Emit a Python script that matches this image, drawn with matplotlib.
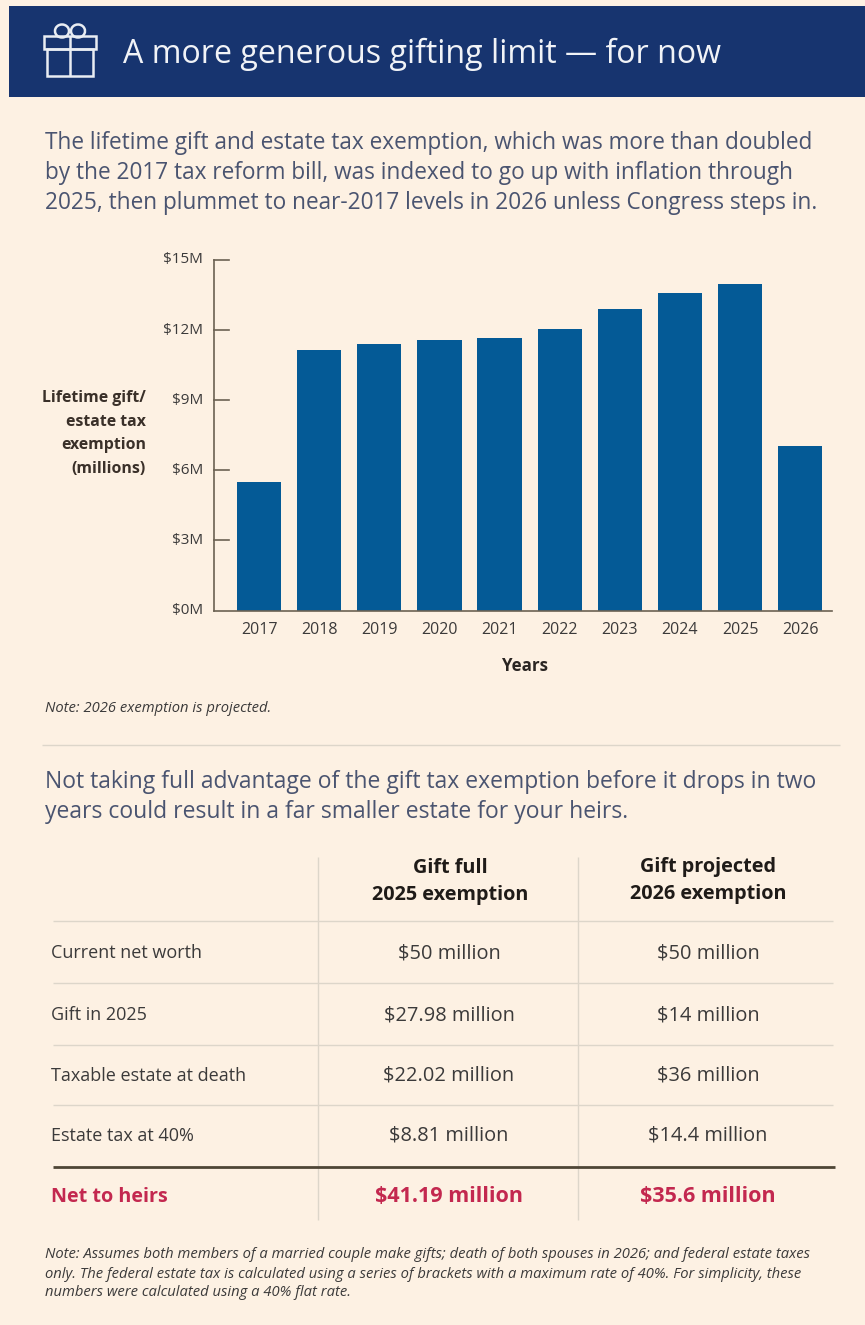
import matplotlib
matplotlib.use("Agg")
import matplotlib.pyplot as plt
from matplotlib.patches import Rectangle, Arc

W, H = 865, 1325
BG = "#FDF1E3"
NAVY = "#17346F"
BAR = "#045A96"
INK = "#3B3A3A"
SLATE = "#4A5470"
RED = "#C3284F"
RULE = "#DDD6CA"
AXIS = "#6B6152"

years = [2017, 2018, 2019, 2020, 2021, 2022, 2023, 2024, 2025, 2026]
exemption = [5.49, 11.15, 11.40, 11.58, 11.68, 12.06, 12.92, 13.58, 13.99, 7.03]
y_ticks = [0, 3, 6, 9, 12, 15]

title = "A more generous gifting limit \u2014 for now"
intro = [
    "The lifetime gift and estate tax exemption, which was more than doubled",
    "by the 2017 tax reform bill, was indexed to go up with inflation through",
    "2025, then plummet to near-2017 levels in 2026 unless Congress steps in.",
]
y_title = ["Lifetime gift/", "estate tax", "exemption", "(millions)"]
chart_note = "Note: 2026 exemption is projected."
lead = [
    "Not taking full advantage of the gift tax exemption before it drops in two",
    "years could result in a far smaller estate for your heirs.",
]
col_heads = [["Gift full", "2025 exemption"], ["Gift projected", "2026 exemption"]]
row_labels = ["Current net worth", "Gift in 2025", "Taxable estate at death", "Estate tax at 40%"]
col_full = ["$50 million", "$27.98 million", "$22.02 million", "$8.81 million"]
col_projected = ["$50 million", "$14 million", "$36 million", "$14.4 million"]
net_label = "Net to heirs"
net_values = ["$41.19 million", "$35.6 million"]
foot = [
    "Note: Assumes both members of a married couple make gifts; death of both spouses in 2026; and federal estate taxes",
    "only. The federal estate tax is calculated using a series of brackets with a maximum rate of 40%. For simplicity, these",
    "numbers were calculated using a 40% flat rate.",
]

plt.rcParams["font.family"] = ["Open Sans", "Noto Sans", "DejaVu Sans"]

fig = plt.figure(figsize=(W / 100, H / 100), dpi=100, facecolor=BG)

# Page layer addressed in pixels from the top-left corner.
page = fig.add_axes([0, 0, 1, 1])
page.set_xlim(0, W)
page.set_ylim(H, 0)
page.axis("off")


def put(x, y, s, size, color=INK, weight="normal", ha="left", style="normal"):
    page.text(x, y, s, fontsize=size, color=color, fontweight=weight,
              ha=ha, va="center", fontstyle=style)


def seg(x0, y0, x1, y1, color, lw):
    page.plot([x0, x1], [y0, y1], color=color, lw=lw, solid_capstyle="butt")


# Header band and gift icon
page.add_patch(Rectangle((9, 6), W - 9, 91, fc=NAVY, ec="none"))
ICON = "#E9EDF3"
page.add_patch(Rectangle((44, 36), 52, 13, fc="none", ec=ICON, lw=1.8))
page.add_patch(Rectangle((47, 49), 46, 27, fc="none", ec=ICON, lw=1.8))
seg(69.5, 36, 69.5, 76, ICON, 1.8)
page.add_patch(Arc((62, 31), 14, 13, theta1=0, theta2=360, ec=ICON, lw=1.8))
page.add_patch(Arc((78, 31), 14, 13, theta1=0, theta2=360, ec=ICON, lw=1.8))
put(123, 54, title, 23.1, "#F1F3F7")

# Intro paragraph
for y, line in zip([143, 173, 203], intro):
    put(45, y, line, 16.3, SLATE)

# Bar chart, placed so the baseline and spine sit on the page grid
left, right, top, bottom = 214, 832, 260, 610.5
ax = fig.add_axes([left / W, 1 - bottom / H, (right - left) / W, (bottom - top) / H])
ax.patch.set_alpha(0)
ax.bar(years, exemption, width=0.735, color=BAR, zorder=2)
ax.set_xlim(2016.25, 2026.53)
ax.set_ylim(0, 15)
ax.set_yticks(y_ticks)
ax.set_yticklabels([f"${v}M" for v in y_ticks], fontsize=11, color=INK, va="center")
ax.set_xticks(years)
ax.set_xticklabels([str(v) for v in years], fontsize=11.5, color=INK)
ax.tick_params(axis="y", direction="out", length=0, pad=8)
ax.tick_params(axis="x", length=0, pad=8)
for v in y_ticks[1:]:
    ax.plot([0, 0.024], [v, v], transform=ax.get_yaxis_transform(), color=AXIS, lw=1.2, clip_on=False)
for side in ("top", "right"):
    ax.spines[side].set_visible(False)
for side in ("left", "bottom"):
    ax.spines[side].set_color(AXIS)
    ax.spines[side].set_linewidth(1.2)
ax.set_xlabel("Years", fontsize=12.2, fontweight="bold", color="#2A2522", labelpad=14, x=0.503)

for y, line in zip([398, 422, 445, 469], y_title):
    put(146, y, line, 11.4, "#3A3029", "bold", ha="right")

put(45, 708, chart_note, 10.6, INK, style="italic")
seg(42, 745, 840, 745, RULE, 1)

for y, line in zip([782, 812], lead):
    put(45, y, line, 16.5, SLATE)

# Comparison table
X1, X2 = 318, 578
CX1, CX2 = 450, 708
seg(X1, 857, X1, 1220, RULE, 1)
seg(X2, 857, X2, 1220, RULE, 1)
for y in [921, 983, 1045, 1105]:
    seg(53, y, 833, y, RULE, 1)
seg(53, 1167, 835, 1167, "#4E4636", 2)

for cx, head, y0 in zip([CX1, CX2], col_heads, [868, 867]):
    put(cx, y0, head[0], 14.3, "#1F1B18", "bold", ha="center")
    put(cx, y0 + 27, head[1], 14.3, "#1F1B18", "bold", ha="center")

for y, label, a, b in zip([953, 1015, 1076, 1136], row_labels, col_full, col_projected):
    put(51, y, label, 13, INK)
    put(CX1 - 1, y, a, 14.4, INK, ha="center")
    put(CX2, y, b, 14.4, INK, ha="center")

put(51, 1197, net_label, 14.2, RED, "bold")
put(CX1 - 1, 1197, net_values[0], 15.5, RED, "bold", ha="center")
put(CX2, 1197, net_values[1], 15.5, RED, "bold", ha="center")

for y, line in zip([1255, 1274, 1293], foot):
    put(45, y, line, 10.6, INK, style="italic")

fig.savefig("out.png", dpi=100, facecolor=BG)
